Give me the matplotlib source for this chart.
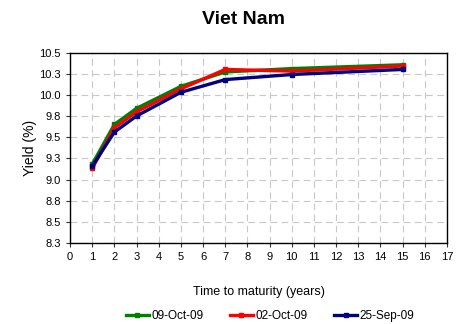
import matplotlib.pyplot as plt

plt.rcParams['font.family'] = ['Liberation Sans', 'DejaVu Sans']

maturity = [1, 2, 3, 5, 7, 10, 15]
oct09 = [9.18, 9.65, 9.84, 10.10, 10.27, 10.31, 10.355]
oct02 = [9.13, 9.61, 9.80, 10.07, 10.30, 10.28, 10.34]
sep25 = [9.155, 9.56, 9.75, 10.03, 10.18, 10.24, 10.30]

series = [("09-Oct-09", oct09, "#008000"),
          ("02-Oct-09", oct02, "#ff0000"),
          ("25-Sep-09", sep25, "#000080")]

yticks = [8.25, 8.5, 8.75, 9.0, 9.25, 9.5, 9.75, 10.0, 10.25, 10.5]
ylabels = ["8.3", "8.5", "8.8", "9.0", "9.3", "9.5", "9.8", "10.0", "10.3", "10.5"]

fig = plt.figure(figsize=(4.69, 3.24), dpi=100)
ax = fig.add_axes([70 / 469, 1 - 243 / 324, 377 / 469, 190.5 / 324])

for label, vals, color in series:
    ax.plot(maturity, vals, color=color, linewidth=2.4, marker="s",
            markersize=3.5, label=label)

ax.set_xlim(0, 17)
ax.set_ylim(8.25, 10.5)
ax.set_xticks(range(0, 18))
ax.set_yticks(yticks)
ax.set_yticklabels(ylabels)
ax.tick_params(labelsize=8, length=3, width=0.8, color="#333333")
ax.grid(True, color="#c8c8c8", linestyle=(0, (6, 4)), linewidth=0.8)
ax.set_axisbelow(True)
for s in ax.spines.values():
    s.set_linewidth(1.0)

ax.set_xlabel("Time to maturity (years)", fontsize=9, labelpad=17)
ax.set_ylabel("Yield (%)", fontsize=10, labelpad=2)
fig.text(243 / 469, 1 - 20 / 324, "Viet Nam", ha="center", va="center",
         fontsize=14, fontweight="bold")

fig.legend(loc="center", bbox_to_anchor=(270 / 469, 1 - 316 / 324), ncol=3,
           frameon=False, fontsize=8.5, handlelength=2.0, handletextpad=0.2,
           columnspacing=2.2, markerscale=0.7)

fig.savefig("out.png", dpi=100)
